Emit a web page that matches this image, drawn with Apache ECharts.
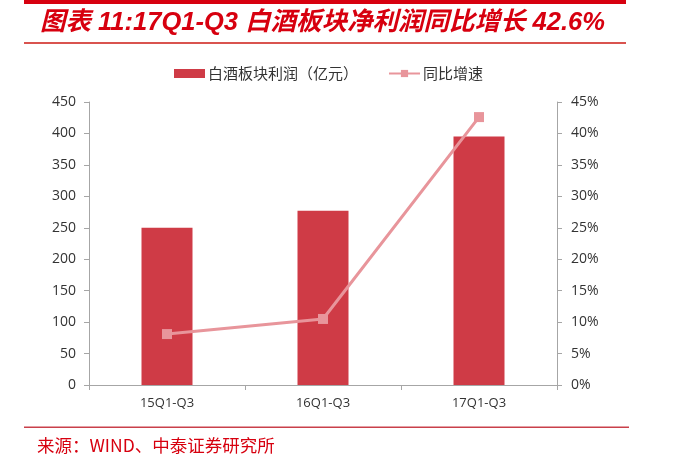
<!DOCTYPE html>
<html>
<head>
<meta charset="utf-8">
<script src="https://cdn.jsdelivr.net/npm/echarts@6/dist/echarts.min.js"></script>
<style>
html,body{margin:0;padding:0;background:#fff;}
#chart{width:692px;height:462px;}
</style>
</head>
<body>
<div id="chart"></div>
<script>
const categories = ['15Q1-Q3', '16Q1-Q3', '17Q1-Q3'];
const profitValues = [250, 277, 395];
const growthValues = [8.1, 10.5, 42.6];
const leftTicks = { min: 0, max: 450, interval: 50 };
const rightTicks = { min: 0, max: 45, interval: 5 };
const titleText = '图表 11:17Q1-Q3 白酒板块净利润同比增长 42.6%';
const sourceText = '来源：WIND、中泰证券研究所';
const seriesNames = ['白酒板块利润（亿元）', '同比增速'];

const chart = echarts.init(document.getElementById('chart'));
const axisGray = '#a6a6a6';
const labelFont = '"Open Sans", "Noto Sans CJK SC", sans-serif';
chart.setOption({
  animation: false,
  backgroundColor: '#fff',
  textStyle: { fontFamily: labelFont },
  graphic: [
    { type: 'rect', shape: { x: 24, y: 0, width: 602, height: 4 }, style: { fill: '#d7000f' } },
    { type: 'text', x: 40, y: 23, style: { text: titleText, fill: '#d7000f', font: 'italic bold 25.5px "Liberation Sans", "Noto Sans CJK SC", sans-serif', textVerticalAlign: 'middle' } },
    { type: 'rect', shape: { x: 24, y: 42, width: 602, height: 2 }, style: { fill: '#d9534f' } },
    { type: 'rect', shape: { x: 24, y: 426.5, width: 605, height: 1.5 }, style: { fill: '#c9404a' } },
    { type: 'text', x: 37, y: 445, style: { text: sourceText, fill: '#d7000f', font: '17.5px "Noto Sans CJK SC", monospace', textVerticalAlign: 'middle' } }
  ],
  legend: {
    top: 61,
    left: 169,
    itemGap: 30,
    itemWidth: 31,
    itemHeight: 9,
    textStyle: { fontSize: 15, color: '#333', fontFamily: '"Noto Sans CJK SC", sans-serif', padding: [0, 0, 0, -2] },
    data: [
      { name: seriesNames[0], icon: 'rect' },
      { name: seriesNames[1] }
    ]
  },
  grid: { left: 89, right: 135, top: 102, bottom: 77 },
  xAxis: {
    type: 'category',
    data: categories,
    axisLine: { lineStyle: { color: axisGray } },
    axisTick: { show: true, alignWithLabel: false, length: 5, lineStyle: { color: axisGray } },
    axisLabel: { color: '#333', fontSize: 13, margin: 12 }
  },
  yAxis: [
    {
      type: 'value', min: leftTicks.min, max: leftTicks.max, interval: leftTicks.interval,
      axisLine: { show: true, lineStyle: { color: axisGray } },
      axisTick: { show: true, length: 5, lineStyle: { color: axisGray } },
      splitLine: { show: false },
      axisLabel: { color: '#333', fontSize: 14, margin: 13 }
    },
    {
      type: 'value', min: rightTicks.min, max: rightTicks.max, interval: rightTicks.interval,
      position: 'right',
      axisLine: { show: true, lineStyle: { color: axisGray } },
      axisTick: { show: true, length: 5, lineStyle: { color: axisGray } },
      splitLine: { show: false },
      axisLabel: { color: '#333', fontSize: 14, margin: 14, formatter: '{value}%' }
    }
  ],
  series: [
    {
      name: seriesNames[0], type: 'bar', data: profitValues, barWidth: 51,
      itemStyle: { color: '#cf3b46' }
    },
    {
      name: seriesNames[1], type: 'line', yAxisIndex: 1, data: growthValues,
      symbol: 'rect', symbolSize: 10,
      lineStyle: { color: '#e8959b', width: 3 },
      itemStyle: { color: '#e8959b' }
    }
  ]
});
</script>
</body>
</html>
